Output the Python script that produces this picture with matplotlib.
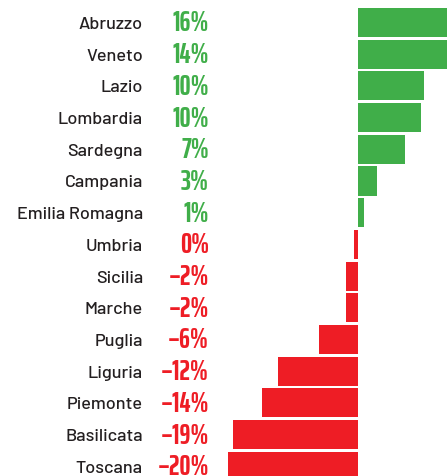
import matplotlib
matplotlib.use("Agg")
import matplotlib.pyplot as plt

regions = ["Abruzzo", "Veneto", "Lazio", "Lombardia", "Sardegna", "Campania",
           "Emilia Romagna", "Umbria", "Sicilia", "Marche", "Puglia", "Liguria",
           "Piemonte", "Basilicata", "Toscana"]
values = [16, 14, 10.2, 9.7, 7.2, 2.9, 0.9, -0.6, -1.8, -1.8, -6, -12.3, -14.8, -19.2, -20]
labels = ["16%", "14%", "10%", "10%", "7%", "3%", "1%", "0%", "–2%", "–2%",
          "–6%", "–12%", "–14%", "–19%", "–20%"]
positive = [True, True, True, True, True, True, True, False, False, False,
            False, False, False, False, False]

GREEN = "#40AE49"
RED = "#EE1D25"
TEXT = "#231F20"

fig = plt.figure(figsize=(4.47, 4.77), dpi=100)
ax = fig.add_axes([0, 0, 1, 1])
ax.set_xlim(-358 / 6.5, 89 / 6.5)
ax.set_ylim((477 - 23.5) / 31.7, -23.5 / 31.7)
ax.axis("off")

ypos = list(range(len(regions)))
colors = [GREEN if p else RED for p in positive]
ax.barh(ypos, values, height=0.92, color=colors, linewidth=0)

trans_name = ax.get_yaxis_transform()
for y, name, lab, c in zip(ypos, regions, labels, colors):
    ax.text(143 / 447, y + 0.03, name, transform=trans_name, ha="right", va="center",
            fontsize=13, color=TEXT, family=["Barlow", "DejaVu Sans"], fontweight="medium")
    ax.text(209 / 447, y, lab, transform=trans_name, ha="right", va="center",
            fontsize=20, color=c, family=["Saira ExtraCondensed", "DejaVu Sans"],
            fontweight="bold")

fig.savefig("out.png", dpi=100)
